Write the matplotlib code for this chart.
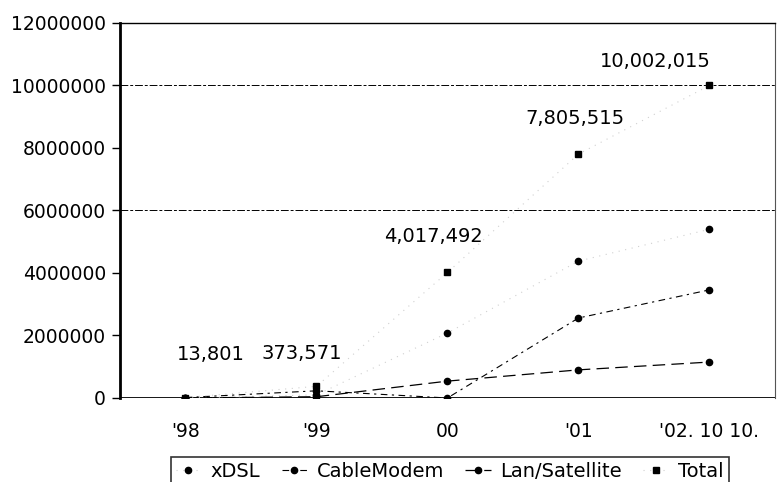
import matplotlib.pyplot as plt
import numpy as np

# categories and series
years = ["'98", "'99", "00", "'01", "'02. 10 10."]
xdsl = [0, 100000, 2080000, 4380000, 5400000]
cable = [13801, 230000, 0, 2560000, 3460000]
lan = [0, 40000, 540000, 900000, 1150000]
total = [13801, 373571, 4017492, 7805515, 10002015]
total_labels = ["13,801", "373,571", "4,017,492", "7,805,515", "10,002,015"]
label_offsets = [(25, 43), (-15, 33), (-14, 36), (-4, 36), (-54, 24)]  # in pixels

plt.rcParams["font.family"] = ["DejaVu Sans"]

fig = plt.figure(figsize=(7.77, 4.82), dpi=100)
ax = fig.add_axes([0.1544, 0.1743, 0.843, 0.778])

x = np.arange(len(years)) + 0.5

ax.plot(x, xdsl, color="#d0d0d0", lw=0.8, ls=(0, (1, 5)),
        marker="o", ms=4.5, mfc="black", mec="black", label="xDSL")
ax.plot(x, cable, color="black", lw=0.8, ls=(0, (6, 4, 2, 4)),
        marker="o", ms=4.5, mfc="black", mec="black", label="CableModem")
ax.plot(x, lan, color="black", lw=0.9, ls=(0, (10, 5)),
        marker="o", ms=4.5, mfc="black", mec="black", label="Lan/Satellite")
ax.plot(x, total, color="#d0d0d0", lw=0.8, ls=(0, (1, 5)),
        marker="s", ms=4.5, mfc="black", mec="black", label="Total")

for xi, yi, txt, off in zip(x, total, total_labels, label_offsets):
    ax.annotate(txt, (xi, yi), xytext=off, textcoords="offset pixels",
                ha="center", va="center", fontsize=14)

# faint dashed gridlines that survive in the scan
for g in (10000000, 6000000):
    ax.axhline(g, color="black", lw=0.7, ls=(0, (8, 2, 3, 2)), zorder=0)
ax.axhline(0, color="black", lw=2, zorder=1)

ax.set_xlim(0, len(years))
ax.set_ylim(0, 12000000)
ax.set_yticks(np.arange(0, 12000001, 2000000))
ax.set_yticklabels([f"{v:d}" for v in range(0, 12000001, 2000000)], fontsize=13.5)
ax.set_xticks(x)
ax.set_xticklabels(years, fontsize=13.5)
ax.tick_params(axis="x", length=0, pad=17)
ax.tick_params(axis="y", length=6, width=1, pad=4)

ax.spines["left"].set_linewidth(2)
ax.spines["bottom"].set_visible(False)
ax.spines["top"].set_linewidth(1)
ax.spines["right"].set_linewidth(0.8)
ax.spines["right"].set_color("#555555")

leg = fig.legend(loc="upper center", bbox_to_anchor=(0.579, 0.052), ncol=4,
                 fontsize=14, frameon=True, fancybox=False, edgecolor="black",
                 handlelength=1.3, handletextpad=0.5, columnspacing=1.1,
                 borderpad=0.25, borderaxespad=0)
leg.get_frame().set_linewidth(1.2)

fig.savefig("out.png", dpi=100)
plt.close()
